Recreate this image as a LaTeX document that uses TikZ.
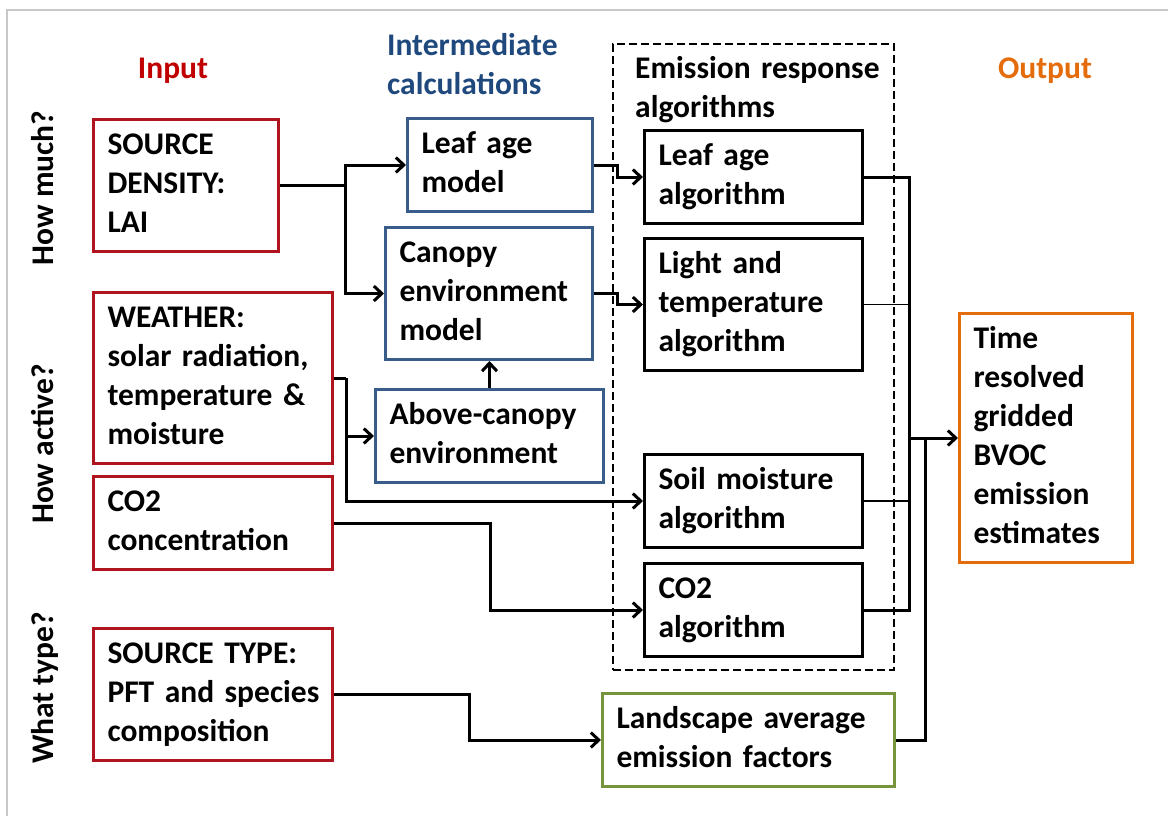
\documentclass[tikz,border=0pt]{standalone}
\usepackage{fontspec}
\setmainfont{Carlito}
\usetikzlibrary{arrows.meta,calc}
\definecolor{inred}{HTML}{C00000}
\definecolor{boxred}{HTML}{B0141E}
\definecolor{inblue}{HTML}{1F497D}
\definecolor{boxblue}{HTML}{385D8A}
\definecolor{boxgreen}{HTML}{77933C}
\definecolor{outorange}{HTML}{E46C0A}
\definecolor{framegray}{HTML}{C8C8C8}
\begin{document}
\begin{tikzpicture}[x=1pt,y=-1pt,
  every node/.style={font=\fontsize{31.5}{39}\selectfont\bfseries},
  box/.style={draw, line width=3pt, anchor=north west, align=left,
    inner xsep=14pt, inner ysep=7.5pt,
    execute at begin node=\strut, execute at end node=\strut},
  redbox/.style={box, draw=boxred},
  bluebox/.style={box, draw=boxblue},
  blackbox/.style={box, draw=black},
  greenbox/.style={box, draw=boxgreen},
  orangebox/.style={box, draw=outorange},
  heading/.style={inner sep=0pt},
  sidelabel/.style={rotate=90, anchor=base, inner sep=0pt},
  conn/.style={line width=3pt},
  arr/.style={conn, -{Straight Barb[length=8pt,width=15pt]}},
  thinconn/.style={line width=1.5pt},
  dashbox/.style={draw, line width=2.4pt, dash pattern=on 8pt off 4pt, inner sep=0pt, anchor=north west}]

\useasboundingbox (0,0) rectangle (1168,816);
\draw[framegray, line width=1.5pt] (7,816) -- (7,10) -- (1168,10);

% headings
\node[heading, anchor=base, text=inred] (hin) at (173,78) {Input};
\node[heading, anchor=north west, align=left, text width=250pt, text=inblue,
  execute at begin node=\strut] (hint) at (387,27.7) {Intermediate\\calculations};
\node[heading, anchor=north west, align=left, text width=260pt,
  execute at begin node=\strut] (hera) at (635,50.7) {Emission response\\algorithms};
\node[heading, anchor=base, text=outorange] (hout) at (1045,78) {Output};

% side labels
\node[sidelabel] (qmuch) at (53,188) {How much?};
\node[sidelabel] (qact) at (53,444) {How active?};
\node[sidelabel] (qtype) at (53,688) {What type?};

% dashed group
\node[dashbox, minimum width=281pt, minimum height=626pt] (era) at (612,43) {};

% input boxes
\node[redbox, text width=157pt] (sd) at (92,118) {SOURCE\\DENSITY:\\LAI};
\node[redbox, text width=211pt] (weather) at (92,291) {WEATHER:\\solar~radiation,\\temperature~\&\\moisture};
\node[redbox, text width=211pt] (co2) at (92,475) {CO2\\concentration};
\node[redbox, text width=211pt] (st) at (92,627) {SOURCE~TYPE:\\PFT~and~species\\composition};

% intermediate boxes
\node[bluebox, text width=157pt] (leafm) at (406,117) {Leaf~age\\model};
\node[bluebox, text width=179pt] (canm) at (384,226) {Canopy\\environment\\model};
\node[bluebox, text width=200pt] (above) at (374,388) {Above-canopy\\environment};

% algorithm boxes
\node[blackbox, text width=190pt] (leafa) at (643,129) {Leaf~age\\algorithm};
\node[blackbox, text width=190pt] (lta) at (643,237) {Light~and\\temperature\\algorithm};
\node[blackbox, text width=190pt] (soil) at (643,453) {Soil~moisture\\algorithm};
\node[blackbox, text width=190pt] (co2a) at (643,562) {CO2\\algorithm};

% landscape and output
\node[greenbox, text width=264pt] (land) at (601,692) {Landscape~average\\emission~factors};
\node[orangebox, text width=145pt] (out) at (958,312) {Time\\resolved\\gridded\\BVOC\\emission\\estimates};

% connectors
\coordinate (j1) at ($(sd.east)+(65,0)$);
\draw[conn] (sd.east) -- (j1);
\draw[arr] (j1) |- (leafm.west);
\draw[arr] (j1) |- (canm.west);

\draw[arr] (leafm.east) -- ++(23,0) |- (leafa.west);
\draw[arr] (canm.east) -- ++(23,0) |- (lta.west);

\coordinate (j2) at ($(weather.east)+(12,0)$);
\draw[conn] (weather.east) -- (j2);
\draw[arr] (j2) |- (above.west);
\draw[arr] (j2) |- (soil.west);
\draw[arr] (above.north) -- (above.north |- canm.south);

\draw[arr] (co2.east) -- ++(156,0) |- (co2a.west);
\draw[arr] (st.east) -- ++(135,0) |- (land.west);

\coordinate (m) at ($(out.west)+(-49,0)$);
\coordinate (m2) at ($(out.west)+(-33,0)$);
\draw[conn] (leafa.east) -| (m);
\draw[conn] (co2a.east) -| (m);
\draw[thinconn] (lta.east) -- (lta.east -| m);
\draw[thinconn] (soil.east) -- (soil.east -| m);
\draw[arr] (m) -- (out.west);
\draw[conn] (land.east) -| (m2);
\end{tikzpicture}
\end{document}
